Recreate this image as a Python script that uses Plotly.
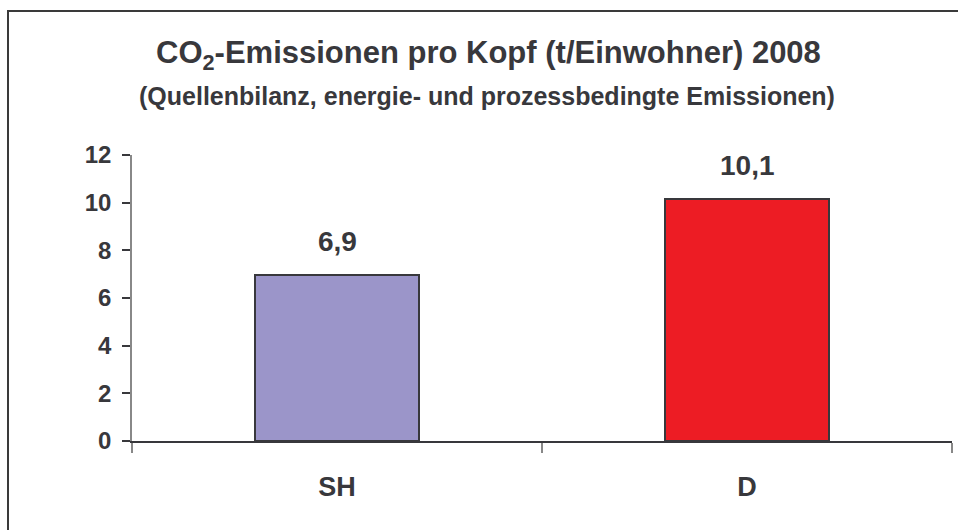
import plotly.graph_objects as go

categories = ["SH", "D"]
values = [6.97, 10.15]
value_labels = ["6,9", "10,1"]
bar_colors = ["#9B95C9", "#ED1C24"]
y_ticks = [0, 2, 4, 6, 8, 10, 12]

TXT = "#38383C"
FONT = "Liberation Sans, Arial, sans-serif"


def f(size):
    return dict(family=FONT, size=size, color=TXT, weight="bold")


fig = go.Figure()
fig.add_trace(go.Bar(
    x=categories, y=values, width=0.4,
    marker=dict(color=bar_colors, line=dict(color="#38383C", width=2)),
    hoverinfo="skip",
))

for c, v, t in zip(categories, values, value_labels):
    fig.add_annotation(x=c, y=v, text=t, showarrow=False, yanchor="bottom",
                       yshift=16, font=f(28))

fig.add_annotation(xref="paper", yref="paper", x=(488 - 132) / 820, y=(441 - 55) / 286,
                   text="CO<sub>2</sub>-Emissionen pro Kopf (t/Einwohner) 2008",
                   showarrow=False, xanchor="center", yanchor="middle", font=f(31))
fig.add_annotation(xref="paper", yref="paper", x=(487 - 132) / 820, y=(441 - 96) / 286,
                   text="(Quellenbilanz, energie- und prozessbedingte Emissionen)",
                   showarrow=False, xanchor="center", yanchor="middle", font=f(25))

# outer frame
fig.add_shape(type="rect", xref="paper", yref="paper",
              x0=(8 - 132) / 820, x1=1.2, y0=-0.5, y1=(441 - 11) / 286,
              line=dict(color="#3A3A3A", width=2), layer="below")

fig.update_layout(
    width=958, height=530,
    margin=dict(l=132, r=6, t=155, b=89),
    paper_bgcolor="white", plot_bgcolor="white",
    showlegend=False,
    font=dict(family=FONT, color=TXT),
    bargap=0.6,
)
fig.update_xaxes(
    showline=True, linecolor="#38383C", linewidth=1.5,
    tickson="boundaries", ticks="outside", ticklen=10, tickcolor="#888888", tickwidth=1.5,
    tickfont=f(27), ticklabelstandoff=21,
    showgrid=False, zeroline=False,
)
fig.update_yaxes(
    range=[0, 12], tickvals=y_ticks,
    showline=True, linecolor="#888888", linewidth=1.5,
    ticks="outside", ticklen=8, tickcolor="#38383C", tickwidth=1.5,
    tickfont=f(24), ticklabelstandoff=6,
    showgrid=False, zeroline=False,
)

fig.write_html(
    "out.html",
    config={"displayModeBar": False},
    post_script="document.body.style.margin='0';document.body.style.overflow='hidden';",
)
